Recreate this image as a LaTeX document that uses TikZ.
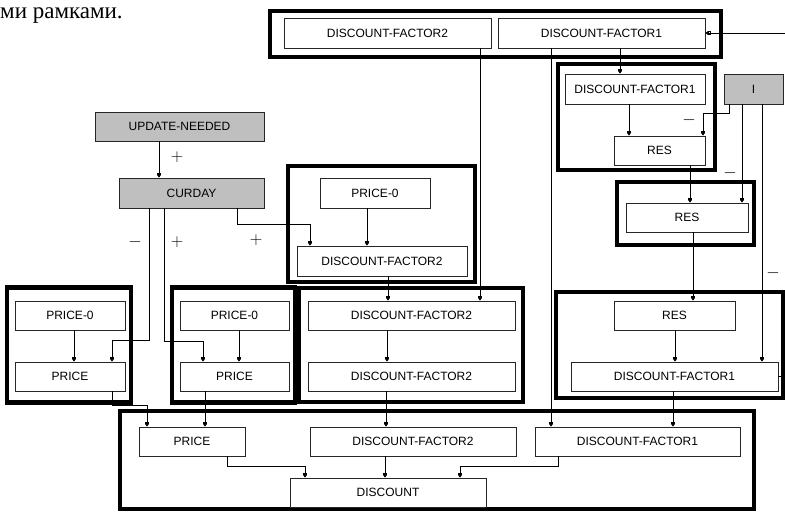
\documentclass[tikz,border=0pt]{standalone}
\usepackage{fontspec}
\setmainfont{Liberation Sans}
\newfontfamily\cyrserif{Liberation Serif}
\usetikzlibrary{arrows.meta}
\tikzstyle{blk} = [rectangle, draw=black!85, line width=0.8pt, inner sep=0pt,
                   font={\fontsize{12}{13}\selectfont}]
\tikzstyle{var} = [blk, fill=black!25]
\tikzstyle{grp} = [rectangle, draw=black, line width=4.5pt, inner sep=0pt]
\tikzstyle{line} = [draw, line width=0.7pt,
  -{Square[open,length=2.4pt,width=3.2pt,line width=0.6pt]Triangle[length=2.6pt,width=3.6pt]}]
\tikzstyle{sgn} = [inner sep=0pt, font={\fontsize{18}{18}\selectfont}]

\begin{document}
\begin{tikzpicture}[x=1pt, y=-1pt]
  \useasboundingbox (0,0) rectangle (785,513);
  \node [anchor=base west, inner sep=0pt, font={\cyrserif\fontsize{23}{23}\selectfont}]
    (head) at (0,19) {ми рамками.};

  % thick frames
  \node [grp, minimum width=451pt, minimum height=46pt] (gtop) at (495.5,34) {};
  \node [grp, minimum width=157pt, minimum height=106pt] (gres1) at (636.5,117) {};
  \node [grp, minimum width=137pt, minimum height=63pt] (gres2) at (685.5,213.5) {};
  \node [grp, minimum width=227pt, minimum height=106pt] (gres3) at (669.5,345) {};
  \node [grp, minimum width=187pt, minimum height=116pt] (gmid) at (381.5,224) {};
  \node [grp, minimum width=124pt, minimum height=115pt] (gpa) at (69,345) {};
  \node [grp, minimum width=123pt, minimum height=115pt] (gpb) at (233.5,345) {};
  \node [grp, minimum width=224pt, minimum height=114pt] (gdf) at (411,345) {};
  \node [grp, minimum width=634pt, minimum height=98pt] (gbot) at (437,460) {};

  % top
  \node [blk, minimum width=207pt, minimum height=30pt] (df2t) at (387.5,33) {DISCOUNT-FACTOR2};
  \node [blk, minimum width=207pt, minimum height=30pt] (df1t) at (601.5,33) {DISCOUNT-FACTOR1};
  % right column
  \node [blk, minimum width=140pt, minimum height=30pt] (df1r) at (635,89) {DISCOUNT-FACTOR1};
  \node [blk, minimum width=91pt, minimum height=29pt] (res1) at (659.5,150.5) {RES};
  \node [var, minimum width=59pt, minimum height=30pt] (ivar) at (753.5,89) {I};
  \node [blk, minimum width=122pt, minimum height=29pt] (res2) at (687,217.5) {RES};
  \node [blk, minimum width=121pt, minimum height=29pt] (res3) at (674.5,315.5) {RES};
  \node [blk, minimum width=207pt, minimum height=29pt] (df1b) at (674.5,376.5) {DISCOUNT-FACTOR1};
  % left column
  \node [var, minimum width=169pt, minimum height=29pt] (upd) at (179.5,126.5) {UPDATE-NEEDED};
  \node [var, minimum width=145pt, minimum height=30pt] (curday) at (191.5,193) {CURDAY};
  \node [blk, minimum width=110pt, minimum height=30pt] (p0m) at (375,193) {PRICE-0};
  \node [blk, minimum width=170pt, minimum height=30pt] (df2m) at (382,261) {DISCOUNT-FACTOR2};
  \node [blk, minimum width=110pt, minimum height=29pt] (p0a) at (70,315.5) {PRICE-0};
  \node [blk, minimum width=110pt, minimum height=29pt] (pra) at (70,376.5) {PRICE};
  \node [blk, minimum width=109pt, minimum height=29pt] (p0b) at (234.5,315.5) {PRICE-0};
  \node [blk, minimum width=109pt, minimum height=29pt] (prb) at (234.5,376.5) {PRICE};
  \node [blk, minimum width=207pt, minimum height=29pt] (df2c) at (411.5,315.5) {DISCOUNT-FACTOR2};
  \node [blk, minimum width=207pt, minimum height=29pt] (df2e) at (411.5,376.5) {DISCOUNT-FACTOR2};
  % bottom
  \node [blk, minimum width=106pt, minimum height=29pt] (prd) at (192,441.5) {PRICE};
  \node [blk, minimum width=206pt, minimum height=29pt] (df2d) at (413,441.5) {DISCOUNT-FACTOR2};
  \node [blk, minimum width=205pt, minimum height=29pt] (df1d) at (637.5,441.5) {DISCOUNT-FACTOR1};
  \node [blk, minimum width=196pt, minimum height=29pt] (disc) at (388,492.5) {DISCOUNT};

  % signs
  \node [sgn] (s1) at (177,157) {$+$};
  \node [sgn] (s2) at (135,242) {$-$};
  \node [sgn] (s3) at (177,242) {$+$};
  \node [sgn] (s4) at (256,240) {$+$};
  \node [sgn] (s5) at (689,120) {$-$};
  \node [sgn] (s6) at (730,173) {$-$};
  \node [sgn] (s7) at (773,273) {$-$};

  % connectors
  \path [line] (159,0 |- upd.south) -- (159,0 |- curday.north);
  \path [line] (149,0 |- curday.south) -- (149,340) -| (112,0 |- pra.north);
  \path [line] (164,0 |- curday.south) -- (164,341) -| (203,0 |- prb.north);
  \path [line] (237,0 |- curday.south) -- (237,224) -| (310,0 |- df2m.north);
  \path [line] (367,0 |- p0m.south) -- (367,0 |- df2m.north);
  \path [line] (74,0 |- p0a.south) -- (74,0 |- pra.north);
  \path [line] (239,0 |- p0b.south) -- (239,0 |- prb.north);
  \path [line] (388,0 |- df2m.south) -- (388,0 |- df2c.north);
  \path [line] (387,0 |- df2c.south) -- (387,0 |- df2e.north);
  \path [line] (480,0 |- df2t.south) -- (480,0 |- df2c.north);
  \path [line] (551,0 |- df1t.south) -- (551,0 |- df1d.north);
  \path [line] (620,0 |- df1t.south) -- (620,0 |- df1r.north);
  \path [line] (629,0 |- df1r.south) -- (629,0 |- res1.north);
  \path [line] (729,0 |- ivar.south) -- (729,113) -| (703,0 |- res1.north);
  \path [line] (742,0 |- ivar.south) -- (742,0 |- res2.north);
  \path [line] (762,0 |- ivar.south) -- (762,0 |- df1b.north);
  \path [line] (690,0 |- res1.south) -- (690,0 |- res2.north);
  \path [line] (693,0 |- res2.south) -- (693,0 |- res3.north);
  \path [line] (675,0 |- res3.south) -- (675,0 |- df1b.north);
  \path [line] (df1b.east) -- (788,0 |- df1b.east) |- (df1t.east);
  \path [line] (112,0 |- pra.south) -- (112,405) -| (147,0 |- prd.north);
  \path [line] (205,0 |- prb.south) -- (205,0 |- prd.north);
  \path [line] (386,0 |- df2e.south) -- (386,0 |- df2d.north);
  \path [line] (673,0 |- df1b.south) -- (673,0 |- df1d.north);
  \path [line] (227,0 |- prd.south) -- (227,466) -| (305,0 |- disc.north);
  \path [line] (385,0 |- df2d.south) -- (385,0 |- disc.north);
  \path [line] (558,0 |- df1d.south) -- (558,466) -| (460,0 |- disc.north);
\end{tikzpicture}
\end{document}
